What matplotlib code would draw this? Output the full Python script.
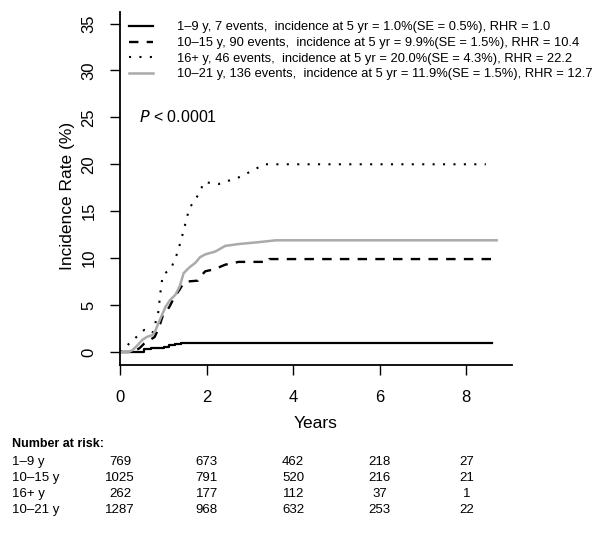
import matplotlib
matplotlib.use("Agg")
import matplotlib.pyplot as plt
import matplotlib.transforms as mtransforms

plt.rcParams['font.family'] = ['Liberation Sans', 'DejaVu Sans']

# cumulative incidence curves (years, %)
t_1_9 = [0, 0.48, 0.56, 0.71, 1.02, 1.14, 1.28, 1.40, 8.60]
y_1_9 = [0, 0.0, 0.3, 0.4, 0.5, 0.7, 0.8, 1.0, 1.0]

t_10_15 = [0, 0.20, 0.33, 0.45, 0.56, 0.70, 0.80, 0.90, 0.99, 1.08, 1.14, 1.25, 1.37,
           1.45, 1.53, 1.80, 1.85, 1.97, 2.17, 2.43, 2.74, 3.43, 3.45, 8.60]
y_10_15 = [0, 0.0, 0.1, 0.4, 0.9, 1.3, 1.6, 2.6, 3.9, 4.4, 4.8, 5.8, 6.6,
           7.2, 7.5, 7.6, 8.0, 8.6, 8.8, 9.3, 9.6, 9.6, 9.9, 9.9]

t_16 = [0, 0.38, 0.56, 0.75, 0.88, 0.95, 0.99, 1.18, 1.33, 1.45, 1.60, 1.83, 1.94,
        2.28, 2.74, 3.05, 3.33, 8.45]
y_16 = [0, 1.6, 2.35, 2.0, 4.1, 7.0, 8.2, 8.9, 10.6, 12.6, 15.3, 16.9, 18.1,
        17.9, 18.6, 19.3, 20.0, 20.0]

t_10_21 = [0, 0.20, 0.29, 0.40, 0.52, 0.62, 0.75, 0.82, 0.90, 1.05, 1.15, 1.28, 1.38,
           1.47, 1.60, 1.74, 1.85, 1.97, 2.20, 2.43, 2.74, 3.20, 3.60, 8.70]
y_10_21 = [0, 0.0, 0.2, 0.7, 1.3, 1.6, 1.8, 2.3, 3.2, 4.8, 5.5, 6.1, 7.0,
           8.4, 9.0, 9.5, 10.1, 10.4, 10.7, 11.3, 11.5, 11.7, 11.9, 11.9]

labels = [
    "1\u20139 y, 7 events,  incidence at 5 yr = 1.0%(SE = 0.5%), RHR = 1.0",
    "10\u201315 y, 90 events,  incidence at 5 yr = 9.9%(SE = 1.5%), RHR = 10.4",
    "16+ y, 46 events,  incidence at 5 yr = 20.0%(SE = 4.3%), RHR = 22.2",
    "10\u201321 y, 136 events,  incidence at 5 yr = 11.9%(SE = 1.5%), RHR = 12.7",
]

risk_times = [0, 2, 4, 6, 8]
risk_groups = ["1\u20139 y", "10\u201315 y", "16+ y", "10\u201321 y"]
risk_counts = [
    [769, 673, 462, 218, 27],
    [1025, 791, 520, 216, 21],
    [262, 177, 112, 37, 1],
    [1287, 968, 632, 253, 22],
]

fig = plt.figure(figsize=(6, 5.33), dpi=100)
ax = fig.add_axes([0.2, 0.315, 0.653, 0.662])

ax.plot(t_1_9, y_1_9, drawstyle='steps-post', color='black', lw=1.6, label=labels[0])
ax.plot(t_10_15, y_10_15, color='black', lw=1.7,
        linestyle=(0, (4, 3.5)), label=labels[1])
ax.plot(t_16, y_16, color='black', lw=1.5,
        linestyle=(0, (1, 4)), label=labels[2])
ax.plot(t_10_21, y_10_21, color='#aaaaaa', lw=1.8, label=labels[3])

ax.set_xlim(0, 9.05)
ax.set_ylim(-1.4, 36.2)
ax.set_xticks(risk_times)
ax.set_yticks(range(0, 36, 5))
for s in ['top', 'right']:
    ax.spines[s].set_visible(False)
for s in ['left', 'bottom']:
    ax.spines[s].set_linewidth(1.3)
ax.tick_params(axis='both', length=7, width=1, labelsize=12)
ax.tick_params(axis='x', pad=11)
ax.tick_params(axis='y', pad=10)
for lab in ax.get_yticklabels():
    lab.set_rotation(90)
    lab.set_va('center')

ax.set_xlabel("Years", fontsize=12.5)
ax.xaxis.set_label_coords(0.5, -0.145)
ax.set_ylabel("Incidence Rate (%)", fontsize=12.5)
ax.yaxis.set_label_coords(-0.115, 0.48)

ax.legend(loc='upper left', bbox_to_anchor=(0.012, 0.985), frameon=False,
          fontsize=9.3, handlelength=1.9, handletextpad=1.85, labelspacing=0.28,
          borderpad=0, borderaxespad=0.3)

ax.text(0.45, 25, "$P$ < 0.0001", fontsize=11.5, va='center', ha='left')

# number at risk table
trans = mtransforms.blended_transform_factory(ax.transData, fig.transFigure)
fig.text(12 / 600, 1 - 444 / 533, "Number at risk:", fontsize=9, fontweight='bold', va='center')
row_y = [462, 478, 494, 510]
for grp, counts, yy in zip(risk_groups, risk_counts, row_y):
    fig.text(12 / 600, 1 - yy / 533, grp, fontsize=9.5, va='center')
    for t, n in zip(risk_times, counts):
        ax.text(t, 1 - yy / 533, str(n), transform=trans, fontsize=9.5,
                ha='center', va='center', clip_on=False)

fig.savefig("out.png", dpi=100)
